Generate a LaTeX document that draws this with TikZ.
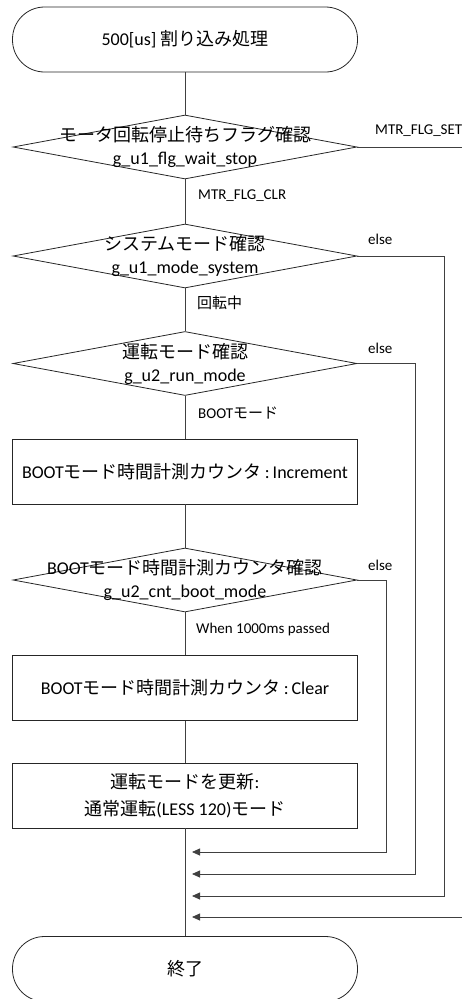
\documentclass[tikz,border=0pt]{standalone}
\usepackage{fontspec}
\setmainfont{Carlito}
\newfontfamily\jp{Noto Sans CJK JP}
\usetikzlibrary{positioning}
\usetikzlibrary{arrows.meta,shapes}
\tikzstyle{terminal}=[rectangle,draw=black!85,line width=0.8pt,rounded corners=32pt,minimum width=345pt,minimum height=65pt,inner sep=0pt,font=\fontsize{18}{22}\selectfont]
\tikzstyle{decision}=[diamond,draw=black!85,line width=0.8pt,minimum width=344pt,minimum height=64pt,inner sep=0pt]
\tikzstyle{process}=[rectangle,draw=black!85,line width=0.8pt,minimum width=345pt,minimum height=65pt,inner sep=0pt,align=center,font=\fontsize{18}{27}\selectfont]
\tikzstyle{dtext}=[align=center,inner sep=0pt,font=\fontsize{18}{23}\selectfont]
\tikzstyle{edge}=[draw,line width=0.8pt,black!75]
\tikzstyle{branch}=[draw,line width=0.8pt,black!75,-{Triangle[length=8pt,width=7pt]}]
\tikzstyle{cond}=[anchor=west,inner sep=0pt,font=\fontsize{15}{18}\selectfont]

\begin{document}
\begin{tikzpicture}[x=1pt,y=-1pt]
    \useasboundingbox (0,0) rectangle (461,999);

    \foreach \pos/\name/\txt in {{(185,39.5)/start/{500[us] {\jp 割り込み処理}}}, {(185,969)/fin/{\jp 終了}}}
        \node[terminal] (\name) at \pos {\txt};

    \foreach \pos/\name in {{(185,147)/flag}, {(185,256)/sys}, {(185,363.5)/run}, {(185,580)/boot}}
        \node[decision] (\name) at \pos {};

    \foreach \name/\txt in {flag/{{\jp モータ回転停止待ちフラグ確認}\\g\_u1\_flg\_wait\_stop}, sys/{{\jp システムモード確認}\\g\_u1\_mode\_system}, run/{{\jp 運転モード確認}\\g\_u2\_run\_mode}, boot/{BOOT{\jp モード時間計測カウンタ確認}\\g\_u2\_cnt\_boot\_mode}}
        \node[dtext] (\name txt) at (\name) {\txt};

    \foreach \pos/\name/\txt in {{(185,471.5)/inc/{BOOT{\jp モード時間計測カウンタ}\,:\,Increment}}, {(185,688)/clr/{BOOT{\jp モード時間計測カウンタ}\,:\,Clear}}, {(185,795.5)/upd/{{\jp 運転モードを更新}:\\{\jp 通常運転}(LESS 120){\jp モード}}}}
        \node[process] (\name) at \pos {\txt};

    % condition labels
    \foreach \pos/\name/\txt in {{(375,131)/setlbl/MTR\_FLG\_SET}, {(198,196)/clrlbl/MTR\_FLG\_CLR}, {(368,239)/else1/else}, {(197,303)/rotlbl/{\jp 回転中}}, {(368,348)/else2/else}, {(198,413)/bootlbl/BOOT{\jp モード}}, {(368,565)/else3/else}, {(196,629)/passlbl/When 1000ms passed}}
        \node[cond] (\name) at \pos {\txt};

    \foreach \source/\dest in {start/flag, flag/sys, sys/run, run/inc, inc/boot, boot/clr, clr/upd, upd/fin}
        \path[edge] (\source) -- (\dest);

    % return lines
    \foreach \pos/\name in {{(386,852)/k1}, {(415,874)/k2}, {(444,896)/k3}, {(463,917)/k4}, {(192,852)/j1}, {(192,874)/j2}, {(192,896)/j3}, {(192,917)/j4}}
        \path \pos coordinate (\name);

    \foreach \source/\corner/\dest in {boot/k1/j1, run/k2/j2, sys/k3/j3, flag/k4/j4}
        \path[branch] (\source.east) -| (\corner) -- (\dest);

\end{tikzpicture}
\end{document}
